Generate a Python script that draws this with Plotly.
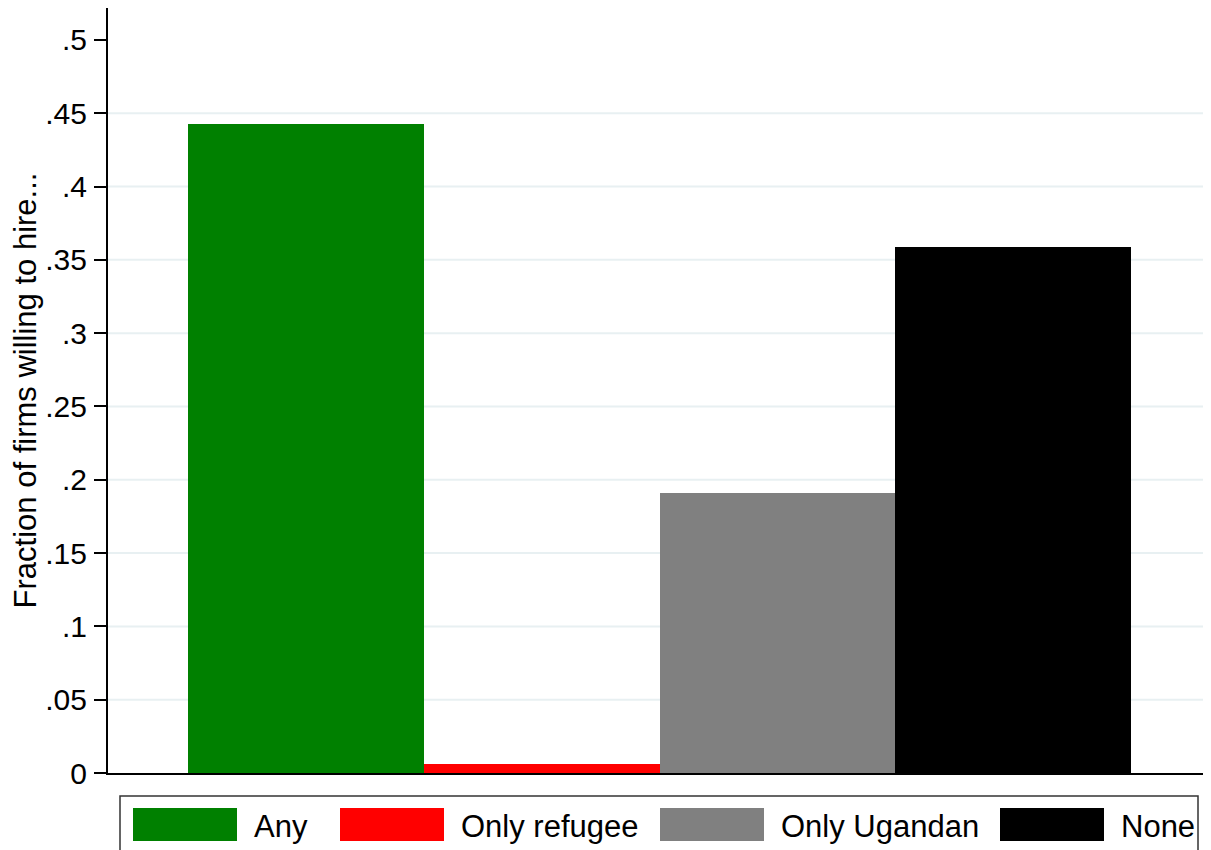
import plotly.graph_objects as go

# Data
categories = ["Any", "Only refugee", "Only Ugandan", "None"]
values = [0.443, 0.006, 0.191, 0.359]
colors = ["#008000", "#FF0000", "#808080", "#000000"]
tick_vals = [0, 0.05, 0.1, 0.15, 0.2, 0.25, 0.3, 0.35, 0.4, 0.45, 0.5]
tick_text = ["0", ".05", ".1", ".15", ".2", ".25", ".3", ".35", ".4", ".45", ".5"]
grid_vals = [0.05, 0.1, 0.15, 0.2, 0.25, 0.3, 0.35, 0.4, 0.45]
y_title = "Fraction of firms willing to hire..."

OFF = 8  # page body margin
W, H = 1211 - OFF, 850 - OFF
# plot area in screen pixels (reference): x 108..1211, y 8..773
L, T = 108 - OFF, 8 - OFF
R = 1211 - OFF - W
B = H - (773 - OFF)
PW, PH = W - L - R, H - T - B
FONT = "Arial, Liberation Sans, sans-serif"


def px(x):
    return (x - OFF - L) / PW


def py(y):
    return (H - B - (y - OFF)) / PH


fig = go.Figure()
fig.add_trace(go.Bar(
    x=list(range(len(categories))), y=values, width=1,
    marker=dict(color=colors, line=dict(width=0)),
    showlegend=False, hoverinfo="skip",
))

shapes = []
for g in grid_vals:
    shapes.append(dict(type="line", xref="paper", yref="y", x0=0, x1=1, y0=g, y1=g,
                       line=dict(color="#E8F0F2", width=2), layer="below"))

# legend box
shapes.append(dict(type="rect", xref="paper", yref="paper",
                   x0=px(120), x1=px(1198), y0=py(796), y1=py(880),
                   line=dict(color="#333333", width=1.5), fillcolor="white", layer="above"))
annotations = []
sw_left = [133, 340, 660, 1000]
for i, cat in enumerate(categories):
    x0 = sw_left[i]
    shapes.append(dict(type="rect", xref="paper", yref="paper",
                       x0=px(x0), x1=px(x0 + 104), y0=py(841), y1=py(808),
                       line=dict(width=0), fillcolor=colors[i], layer="above"))
    annotations.append(dict(xref="paper", yref="paper", x=px(x0 + 104 + 15), y=py(826),
                            text=cat, showarrow=False, xanchor="left", yanchor="middle",
                            font=dict(family=FONT, size=31, color="black")))

fig.update_layout(
    width=W, height=H,
    margin=dict(l=L, r=R, t=T, b=B, pad=0),
    paper_bgcolor="white", plot_bgcolor="white",
    bargap=0,
    shapes=shapes, annotations=annotations,
    xaxis=dict(range=[-0.84, 3.84], showticklabels=False, ticks="", showgrid=False,
               zeroline=False, showline=True, linecolor="black", linewidth=2, fixedrange=True),
    yaxis=dict(range=[0, 0.5218], tickvals=tick_vals, ticktext=tick_text,
               ticks="outside", ticklen=12, tickwidth=2, tickcolor="black",
               ticklabelstandoff=1,
               showgrid=False, zeroline=False, showline=True, linecolor="black", linewidth=2,
               tickfont=dict(family=FONT, size=30, color="black"),
               title=dict(text=y_title, font=dict(family=FONT, size=31, color="black"), standoff=12)),
    showlegend=False,
)

fig.write_html("out.html")
